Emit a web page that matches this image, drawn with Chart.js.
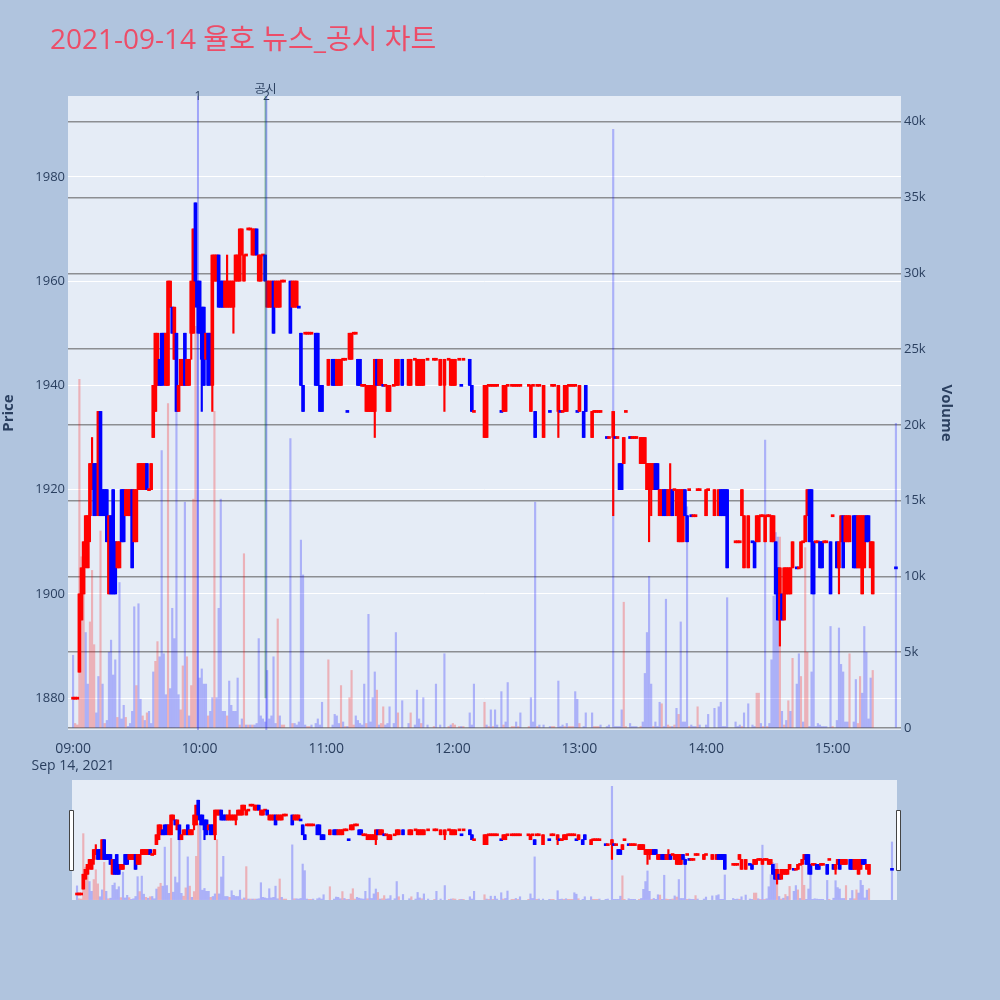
<!DOCTYPE html>
<html>
<head>
<meta charset="utf-8">
<script src="https://cdn.jsdelivr.net/npm/chart.js@4.4.1/dist/chart.umd.min.js"></script>
<style>
  html, body { margin: 0; padding: 0; background: #b0c4de; }
  #wrap { position: relative; width: 1000px; height: 1000px; }
  #main { position: absolute; left: 0; top: 0; }
  #slider { position: absolute; left: 60px; top: 770px; }
</style>
</head>
<body>
<div id="wrap">
  <canvas id="main" width="1000" height="775"></canvas>
  <canvas id="slider" width="850" height="140"></canvas>
</div>
<script>
// 1-minute candles, index = minutes after 09:00 (null = no trade that minute)
const open = [
  1880,1880,1880,1885,1895,1900,1910,1905,1915,1920, // 09:00
  1925,1925,1915,1935,1920,1920,1920,1900,1915,1920,
  1910,1905,1905,1920,1920,1915,1915,1915,1920,1910,
  1910,1920,1920,1920,1920,1925,1920,1920,1930,1935,
  1940,1945,1950,1950,1940,1940,1955,1955,1945,1950,
  1935,1940,1940,1950,1940,1940,1950,1950,1975,1960,
  1960,1955,1955,1945,1950,1950,1940,1960,1960,1965, // 10:00
  1960,1960,1955,1955,1955,1955,1955,1960,1960,1960,
  1965,1960,1965,1970,1970,1965,1965,1970,1960,1960,
  1965,1965,1955,1955,1955,1960,1955,1955,1955,1960,
  1960,null,null,1960,1955,1955,1955,1955,1950,1940,
  1950,1950,1950,1950,null,1950,1950,1940,1940,null,
  null,1940,null,1945,1945,1940,1940,1940,1945,1945, // 11:00
  1935,1945,1945,1950,1950,1945,1945,1940,1940,1935,
  1935,1935,1935,1935,1945,1940,1940,1940,1940,1935,
  1935,null,1940,1940,1940,null,1945,null,null,1940,
  1940,null,1945,1940,1940,1940,1940,null,1945,null,
  null,1945,1945,null,1940,null,1940,null,1945,1940,
  1940,1940,null,1945,1940,1945,null,null,1945,1940, // 12:00
  1935,null,null,null,null,1930,1930,1940,1940,1940,
  1940,1940,null,1935,1935,1935,1940,null,1940,1940,
  1940,1940,1940,null,null,null,1940,1935,1940,1935,
  1940,1940,null,1930,null,null,1935,1940,1940,null,
  1935,1935,1935,1935,1935,1940,1940,1940,1940,1935,
  1935,null,1935,1940,null,null,1930,1935,1935,1935, // 13:00
  1935,null,null,1930,1930,null,1930,1930,1930,1925,
  1925,1925,1935,null,1930,1930,1930,1930,null,1925,
  1925,1925,1920,1920,1920,1920,1925,1925,1915,1915,
  1920,1920,1915,1915,1920,1920,1915,1910,1910,1910,
  1920,1915,1920,1915,1915,1915,1920,1920,null,null,
  1915,1920,null,null,1915,null,1915,1920,1920,1920, // 14:00
  1920,null,null,null,1910,1910,1910,1915,1905,null,
  1905,null,1910,1910,1910,1910,1915,1915,1910,1915,
  1915,1910,1910,1910,1905,1895,1900,1895,1900,1900,
  1900,1905,null,1905,1905,1905,1910,1910,1915,1920,
  1920,1910,1910,1910,1910,1910,1910,1910,null,1910,
  1915,null,1910,1905,1910,1915,1910,1910,1910,null, // 15:00
  1915,1915,1905,1905,1900,1905,1915,1915,1905,1900,
  null,null,null,null,null,null,null,null,null,null,
  1905
];
const high = [
  1880,1880,1880,1900,1905,1910,1915,1915,1925,1930,
  1925,1925,1935,1935,1920,1920,1920,1915,1915,1920,
  1910,1910,1910,1920,1920,1920,1920,1920,1920,1920,
  1920,1925,1925,1925,1925,1925,1920,1925,1940,1950,
  1950,1945,1950,1950,1950,1960,1960,1955,1955,1950,
  1940,1945,1945,1950,1945,1945,1960,1970,1975,1960,
  1960,1955,1955,1950,1950,1950,1965,1965,1965,1965,
  1960,1960,1960,1965,1960,1960,1960,1965,1965,1970,
  1970,1965,1965,1970,1970,1970,1970,1970,1965,1965,
  1965,1965,1960,1960,1960,1960,1960,1960,1960,1960,
  1960,null,null,1960,1960,1960,1960,1955,1950,1940,
  1950,1950,1950,1950,null,1950,1950,1940,1940,null,
  null,1945,null,1945,1945,1945,1945,1945,1945,1945,
  1935,1950,1950,1950,1950,1945,1945,1940,1940,1940,
  1940,1940,1940,1945,1945,1945,1945,1940,1940,1940,
  1940,null,1940,1945,1945,null,1945,null,null,1945,
  1945,null,1945,1945,1945,1945,1945,null,1945,null,
  null,1945,1945,null,1945,null,1945,null,1945,1945,
  1945,1945,null,1945,1940,1945,null,null,1945,1940,
  1935,null,null,null,null,1940,1940,1940,1940,1940,
  1940,1940,null,1935,1940,1940,1940,null,1940,1940,
  1940,1940,1940,null,null,null,1940,1940,1940,1935,
  1940,1940,null,1940,null,null,1935,1940,1940,null,
  1940,1935,1935,1940,1940,1940,1940,1940,1940,1935,
  1940,null,1935,1940,null,null,1935,1935,1935,1935,
  1935,null,null,1930,1930,null,1935,1930,1930,1925,
  1925,1930,1935,null,1930,1930,1930,1930,null,1930,
  1930,1930,1925,1925,1925,1925,1925,1925,1920,1920,
  1920,1920,1920,1925,1920,1920,1920,1920,1920,1920,
  1920,1915,1920,1915,1915,1915,1920,1920,null,null,
  1920,1920,null,null,1920,null,1920,1920,1920,1920,
  1920,null,null,null,1910,1910,1910,1920,1915,null,
  1915,null,1910,1910,1915,1915,1915,1915,1915,1915,
  1915,1915,1915,1910,1905,1905,1900,1905,1905,1905,
  1905,1910,null,1905,1905,1910,1910,1915,1920,1920,
  1920,1910,1910,1910,1910,1910,1910,1910,null,1910,
  1915,null,1910,1910,1915,1915,1915,1915,1915,null,
  1915,1915,1915,1915,1915,1915,1915,1915,1910,1910,
  null,null,null,null,null,null,null,null,null,null,
  1905
];
const low = [
  1880,1880,1880,1885,1895,1900,1905,1905,1910,1920,
  1915,1915,1915,1915,1915,1915,1910,1900,1900,1900,
  1900,1905,1905,1910,1910,1915,1915,1915,1905,1910,
  1910,1920,1920,1920,1920,1920,1920,1920,1930,1935,
  1940,1940,1940,1940,1940,1940,1955,1950,1945,1935,
  1935,1940,1940,1940,1940,1940,1945,1950,1955,1950,
  1950,1935,1940,1945,1940,1940,1935,1960,1960,1955,
  1955,1955,1955,1955,1955,1955,1950,1960,1960,1960,
  1965,1960,1965,1970,1970,1965,1965,1965,1960,1960,
  1965,1960,1955,1955,1955,1950,1955,1955,1955,1960,
  1960,null,null,1950,1955,1955,1955,1955,1940,1935,
  1950,1950,1950,1950,null,1940,1940,1935,1935,null,
  null,1940,null,1940,1940,1940,1940,1940,1945,1945,
  1935,1945,1945,1950,1950,1940,1940,1940,1940,1935,
  1935,1935,1935,1930,1940,1940,1940,1940,1940,1935,
  1935,null,1940,1940,1940,null,1940,null,null,1940,
  1940,null,1945,1940,1940,1940,1940,null,1945,null,
  null,1945,1945,null,1940,null,1935,null,1945,1940,
  1940,1940,null,1945,1940,1945,null,null,1940,1935,
  1935,null,null,null,null,1930,1930,1940,1940,1940,
  1940,1940,null,1935,1935,1935,1940,null,1940,1940,
  1940,1940,1940,null,null,null,1940,1935,1940,1930,
  1940,1940,null,1930,null,null,1935,1940,1940,null,
  1930,1935,1935,1935,1935,1940,1940,1940,1940,1935,
  1935,null,1930,1935,null,null,1930,1935,1935,1935,
  1935,null,null,1930,1930,null,1915,1930,1930,1920,
  1920,1925,1935,null,1930,1930,1930,1930,null,1925,
  1925,1925,1920,1910,1915,1920,1920,1920,1915,1915,
  1915,1915,1915,1915,1915,1920,1915,1910,1910,1910,
  1915,1910,1920,1915,1915,1915,1920,1920,null,null,
  1915,1920,null,null,1915,null,1915,1915,1915,1915,
  1905,null,null,null,1910,1910,1910,1915,1905,null,
  1905,null,1910,1905,1910,1910,1915,1915,1910,1915,
  1915,1910,1910,1900,1895,1890,1895,1895,1900,1900,
  1900,1905,null,1905,1905,1905,1910,1910,1915,1910,
  1900,1900,1910,1910,1905,1905,1910,1910,null,1900,
  1915,null,1905,1900,1910,1905,1910,1910,1910,null,
  1905,1905,1905,1905,1900,1905,1910,1910,1905,1900,
  null,null,null,null,null,null,null,null,null,null,
  1905
];
const close = [
  1880,1880,1880,1900,1905,1910,1915,1915,1925,1925,
  1915,1920,1935,1915,1915,1915,1910,1915,1900,1900,
  1900,1910,1910,1910,1910,1920,1920,1920,1905,1920,
  1920,1925,1925,1925,1925,1920,1920,1925,1940,1950,
  1950,1940,1940,1945,1950,1960,1960,1950,1955,1935,
  1940,1945,1945,1940,1945,1945,1960,1970,1960,1955,
  1950,1945,1940,1950,1940,1945,1965,1965,1965,1955,
  1955,1955,1960,1960,1960,1960,1960,1965,1965,1970,
  1970,1965,1965,1970,1970,1970,1970,1965,1965,1965,
  1965,1960,1960,1960,1960,1950,1960,1960,1960,1960,
  1960,null,null,1950,1960,1960,1960,1955,1940,1935,
  1950,1950,1950,1950,null,1940,1940,1935,1935,null,
  null,1945,null,1940,1940,1945,1945,1945,1945,1945,
  1935,1950,1950,1950,1950,1940,1940,1940,1940,1940,
  1940,1940,1940,1945,1940,1945,1945,1940,1940,1940,
  1940,null,1940,1945,1945,null,1940,null,null,1945,
  1945,null,1945,1945,1945,1945,1945,null,1945,null,
  null,1945,1945,null,1945,null,1945,null,1945,1945,
  1945,1945,null,1945,1940,1945,null,null,1940,1935,
  1935,null,null,null,null,1940,1940,1940,1940,1940,
  1940,1940,null,1935,1940,1940,1940,null,1940,1940,
  1940,1940,1940,null,null,null,1940,1940,1940,1930,
  1940,1940,null,1940,null,null,1935,1940,1940,null,
  1940,1935,1935,1940,1940,1940,1940,1940,1940,1935,
  1940,null,1930,1935,null,null,1935,1935,1935,1935,
  1935,null,null,1930,1930,null,1935,1930,1930,1920,
  1920,1930,1935,null,1930,1930,1930,1930,null,1930,
  1930,1930,1925,1925,1925,1925,1920,1920,1920,1920,
  1915,1915,1920,1920,1915,1920,1920,1920,1920,1920,
  1915,1910,1920,1915,1915,1915,1920,1920,null,null,
  1920,1920,null,null,1920,null,1920,1915,1915,1915,
  1905,null,null,null,1910,1910,1910,1920,1915,null,
  1915,null,1910,1905,1915,1915,1915,1915,1915,1915,
  1915,1915,1915,1900,1895,1905,1895,1905,1905,1905,
  1905,1910,null,1905,1905,1910,1910,1915,1920,1910,
  1910,1900,1910,1910,1905,1905,1910,1910,null,1900,
  1915,null,1905,1910,1915,1905,1915,1915,1915,null,
  1905,1905,1915,1915,1915,1915,1910,1910,1910,1910,
  null,null,null,null,null,null,null,null,null,null,
  1905
];
const volume = [
  4800,300,200,23000,11300,10400,6300,2900,7000,10400,
  5500,1000,3400,13000,2900,300,500,5000,5800,3500,
  4500,700,9600,600,1500,700,100,300,1100,8000,
  2800,8200,1900,800,500,1000,1100,300,3700,4400,
  5700,4700,18300,4900,2200,21400,2600,7900,5900,20900,
  2200,1200,4100,14900,4700,800,2800,15100,26500,28400,
  3300,3900,2900,2900,800,1100,2000,20900,2000,7900,
  15100,1100,1100,800,3100,1500,1100,1100,3300,200,
  600,11500,200,200,200,200,200,300,5900,800,
  600,400,3800,600,800,4700,300,7200,800,200,
  200,null,null,19100,300,300,200,400,12400,10100,
  200,100,100,200,null,300,600,200,1700,null,
  null,4500,null,200,900,800,300,2800,400,100,
  100,2000,3800,200,800,500,300,200,2900,300,
  7500,400,2000,3700,2500,200,300,1400,200,300,
  1400,null,300,6300,1000,null,1800,null,null,300,
  1000,null,200,2500,600,300,2000,null,200,null,
  null,100,2900,null,200,null,4900,null,100,200,
  300,200,null,100,100,100,null,null,1000,200,
  2900,null,null,null,null,1700,200,100,1200,100,
  1200,200,null,2400,200,400,3000,null,100,100,
  400,100,1000,null,null,null,100,2000,400,14900,
  100,200,null,200,null,null,100,100,100,null,
  3100,100,200,100,300,100,100,100,2400,1900,
  300,null,100,1000,null,null,1000,100,100,100,
  200,null,null,100,200,null,39500,100,100,100,
  1200,8300,100,null,300,100,100,100,null,100,
  400,3600,6300,10000,2900,100,400,100,1700,1600,
  100,8500,200,100,100,200,1300,900,7000,400,
  400,14600,100,200,100,100,1400,200,null,null,
  200,900,null,null,1300,null,1400,1700,100,100,
  8600,null,null,null,400,100,200,100,1000,null,
  1600,null,200,100,2300,2300,300,100,19000,100,
  300,4500,8700,12900,12600,12600,1100,200,500,1800,
  1100,4600,null,2900,4900,3400,400,11900,5000,100,
  3700,8900,100,300,200,100,100,100,null,6700,
  100,null,500,6600,4200,3700,400,400,4900,null,
  400,3200,300,3400,2300,6700,5000,600,3300,3800,
  null,null,null,null,null,null,null,null,null,null,
  20100
];
// 1 = buy-side volume, -1 = sell-side volume
const volSide = [
  -1,1,1,1,1,1,-1,-1,1,1,
  1,-1,-1,1,-1,1,-1,-1,-1,-1,
  -1,1,-1,-1,-1,1,-1,-1,-1,-1,
  1,-1,-1,1,-1,1,-1,-1,-1,1,
  1,-1,-1,-1,-1,1,-1,-1,-1,-1,
  -1,1,1,-1,1,-1,1,1,1,-1,
  -1,-1,-1,-1,1,-1,-1,1,-1,-1,
  -1,-1,-1,1,-1,-1,-1,-1,-1,1,
  -1,1,-1,1,-1,1,-1,-1,-1,-1,
  -1,-1,-1,-1,-1,-1,-1,1,-1,1,
  1,null,null,-1,1,-1,-1,-1,-1,-1,
  -1,1,1,-1,null,-1,-1,-1,-1,null,
  null,1,null,-1,-1,-1,-1,1,-1,1,
  -1,1,1,1,-1,-1,-1,-1,-1,1,
  -1,-1,-1,-1,1,-1,1,1,-1,-1,
  -1,null,-1,-1,1,null,-1,null,null,-1,
  1,null,-1,-1,-1,1,-1,null,-1,null,
  null,1,-1,null,-1,null,-1,null,1,-1,
  1,1,null,1,-1,1,null,null,-1,-1,
  -1,null,null,null,null,1,-1,1,-1,1,
  -1,-1,null,-1,1,-1,-1,null,1,1,
  -1,1,-1,null,null,null,1,-1,-1,-1,
  1,-1,null,-1,null,null,-1,1,1,null,
  -1,-1,-1,1,-1,1,1,1,-1,-1,
  1,null,-1,-1,null,null,-1,1,1,1,
  -1,null,null,-1,-1,null,-1,-1,-1,-1,
  -1,1,1,null,-1,-1,-1,-1,null,1,
  -1,-1,-1,-1,-1,1,-1,-1,-1,1,
  -1,-1,1,1,-1,1,-1,1,-1,-1,
  -1,-1,1,-1,-1,-1,1,-1,null,null,
  -1,-1,null,null,-1,null,-1,-1,-1,-1,
  -1,null,null,null,-1,-1,-1,1,-1,null,
  -1,null,-1,-1,1,1,-1,1,-1,1,
  -1,-1,-1,-1,-1,1,-1,1,-1,1,
  -1,1,null,-1,-1,1,-1,1,1,-1,
  -1,-1,-1,-1,-1,-1,-1,-1,null,-1,
  1,null,-1,-1,-1,-1,-1,-1,1,null,
  -1,-1,1,1,-1,-1,-1,-1,-1,1,
  null,null,null,null,null,null,null,null,null,null,
  -1
];

// axis tick values
const priceTicks = [1880, 1900, 1920, 1940, 1960, 1980];
const volumeTicks = [0, 5000, 10000, 15000, 20000, 25000, 30000, 35000, 40000];
const timeTicks = [0, 60, 120, 180, 240, 300, 360];

// news / disclosure markers (minutes after 09:00)
const newsMinutes = [59.2, 91.6];
const newsLabels = ['1', '2'];
const disclosureMinutes = [91.2];
const disclosureLabels = ['공시'];
const disclosureFrom = 1880;

const TITLE = '2021-09-14 율호 뉴스_공시 차트';
const FONT = '"Open Sans", "Noto Sans CJK KR", sans-serif';
const TEXT = '#2a3f5f';
const UP = '#ff0000', DOWN = '#0000ff';
const X_MIN = -2.4, X_MAX = 392.4;
const P_MIN = 1873.9, P_MAX = 1995.5;
const V_MIN = -130, V_MAX = 41700;

Chart.defaults.font.family = FONT;
Chart.defaults.color = TEXT;

const minutes = close.map((_, i) => i);

function candleColor(i) {
  if (close[i] > open[i]) return UP;
  if (close[i] < open[i]) return DOWN;
  for (let j = i - 1; j >= 0; j--) {
    if (close[j] != null) return close[i] >= close[j] ? UP : DOWN;
  }
  return UP;
}

function buildDatasets(flatHalf, bodyW, wickW, volW) {
  const vol = [], volCol = [], wick = [], wickCol = [], body = [], bodyCol = [];
  minutes.forEach(i => {
    if (close[i] == null) return;
    const col = candleColor(i);
    wick.push({ x: i, y: [low[i], high[i]] });
    wickCol.push(col);
    let lo = Math.min(open[i], close[i]), hi = Math.max(open[i], close[i]);
    if (lo === hi) { lo -= flatHalf; hi += flatHalf; }
    body.push({ x: i, y: [lo, hi] });
    bodyCol.push(col);
    vol.push({ x: i, y: volume[i] });
    volCol.push(volSide[i] > 0 ? 'rgba(255,0,0,0.25)' : 'rgba(0,0,255,0.25)');
  });
  return [
    { type: 'bar', data: vol, yAxisID: 'y2', backgroundColor: volCol, barThickness: volW, grouped: false, order: 3 },
    { type: 'bar', data: wick, yAxisID: 'y', backgroundColor: wickCol, barThickness: wickW, grouped: false, order: 2 },
    { type: 'bar', data: body, yAxisID: 'y', backgroundColor: bodyCol, barThickness: bodyW, grouped: false, order: 1 }
  ];
}

function hhmm(v) {
  const h = 9 + Math.floor(v / 60), m = v % 60;
  return String(h).padStart(2, '0') + ':' + String(m).padStart(2, '0');
}

const setTicks = list => scale => { scale.ticks = list.map(v => ({ value: v })); };

const plotBg = {
  id: 'plotBg',
  beforeDraw(chart) {
    const { ctx, chartArea: a } = chart;
    ctx.save();
    ctx.fillStyle = '#e5ecf6';
    ctx.fillRect(a.left, a.top, a.right - a.left, a.bottom - a.top);
    ctx.restore();
  }
};

const markers = {
  id: 'markers',
  afterDatasetsDraw(chart) {
    const { ctx, chartArea: a, scales } = chart;
    ctx.save();
    ctx.lineWidth = 2;
    ctx.font = '12px ' + FONT;
    ctx.textAlign = 'center';
    ctx.textBaseline = 'middle';
    disclosureMinutes.forEach((m, k) => {
      const x = scales.x.getPixelForValue(m);
      ctx.strokeStyle = 'rgba(0,128,0,0.35)';
      ctx.beginPath();
      ctx.moveTo(x, a.top);
      ctx.lineTo(x, scales.y.getPixelForValue(disclosureFrom));
      ctx.stroke();
      ctx.fillStyle = TEXT;
      ctx.fillText(disclosureLabels[k], x, a.top - 6);
    });
    newsMinutes.forEach((m, k) => {
      const x = scales.x.getPixelForValue(m);
      ctx.strokeStyle = 'rgba(0,0,255,0.3)';
      ctx.beginPath();
      ctx.moveTo(x, a.top);
      ctx.lineTo(x, a.bottom);
      ctx.stroke();
      ctx.fillStyle = TEXT;
      ctx.fillText(newsLabels[k], x, a.top + 1);
    });
    ctx.restore();
  }
};

const titlePlugin = {
  id: 'titlePlugin',
  afterDraw(chart) {
    const ctx = chart.ctx;
    ctx.save();
    ctx.fillStyle = '#ec4d68';
    ctx.font = '28px ' + FONT;
    ctx.textAlign = 'left';
    ctx.textBaseline = 'middle';
    ctx.fillText(TITLE, 50, 41);
    ctx.restore();
  }
};

new Chart(document.getElementById('main'), {
  type: 'bar',
  data: { datasets: buildDatasets(0.2, 3, 1.5, 1.5) },
  options: {
    responsive: false,
    animation: false,
    devicePixelRatio: 1,
    layout: { padding: { top: 96, right: 45, left: 0, bottom: 0 } },
    plugins: { legend: { display: false }, tooltip: { enabled: false }, title: { display: false } },
    scales: {
      x: {
        type: 'linear', min: X_MIN, max: X_MAX, offset: false,
        grid: { display: false, offset: false },
        border: { display: false },
        afterBuildTicks: setTicks(timeTicks),
        ticks: {
          autoSkip: false, maxRotation: 0, padding: 3, color: TEXT, font: { size: 14 },
          callback: v => v === 0 ? [hhmm(v), 'Sep 14, 2021'] : hhmm(v)
        },
        afterFit(s) { s.height = 45; }
      },
      y: {
        position: 'left', min: P_MIN, max: P_MAX,
        grid: { color: '#ffffff', lineWidth: 1, drawTicks: false },
        border: { display: false },
        afterBuildTicks: setTicks(priceTicks),
        ticks: { padding: 3, color: TEXT, font: { size: 13 }, callback: v => String(v) },
        title: { display: true, text: 'Price', color: TEXT, font: { size: 15, weight: 'bold' }, padding: { top: 0, bottom: 0 } },
        afterFit(s) { s.width = 68; }
      },
      y2: {
        position: 'right', min: V_MIN, max: V_MAX, z: 1,
        grid: { color: 'rgba(80,80,80,0.6)', lineWidth: 1.5, drawTicks: false },
        border: { display: false },
        afterBuildTicks: setTicks(volumeTicks),
        ticks: {
          padding: 3, color: TEXT, font: { size: 13 },
          callback: v => v === 0 ? '0' : (v / 1000) + 'k'
        },
        title: { display: true, text: 'Volume', color: TEXT, font: { size: 15, weight: 'bold' }, padding: { top: 0, bottom: 0 } },
        afterFit(s) { s.width = 54; }
      }
    }
  },
  plugins: [plotBg, markers, titlePlugin]
});

const handles = {
  id: 'handles',
  afterDraw(chart) {
    const { ctx, chartArea: a } = chart;
    const mid = (a.top + a.bottom) / 2;
    ctx.save();
    ctx.fillStyle = '#ffffff';
    ctx.strokeStyle = '#444444';
    ctx.lineWidth = 1;
    [a.left - 1, a.right + 1].forEach(x => {
      ctx.beginPath();
      ctx.rect(Math.round(x - 2.5) + 0.5, mid - 30 + 0.5, 4, 60);
      ctx.fill();
      ctx.stroke();
    });
    ctx.restore();
  }
};

new Chart(document.getElementById('slider'), {
  type: 'bar',
  data: { datasets: buildDatasets(1, 3, 1.5, 1.5) },
  options: {
    responsive: false,
    animation: false,
    devicePixelRatio: 1,
    layout: { padding: { left: 12, right: 13, top: 10, bottom: 10 } },
    plugins: { legend: { display: false }, tooltip: { enabled: false } },
    scales: {
      x: { type: 'linear', min: X_MIN, max: X_MAX, offset: false, display: false, grid: { offset: false } },
      y: { min: P_MIN, max: P_MAX, display: false },
      y2: { min: V_MIN, max: V_MAX, display: false }
    }
  },
  plugins: [plotBg, handles]
});
</script>
</body>
</html>
